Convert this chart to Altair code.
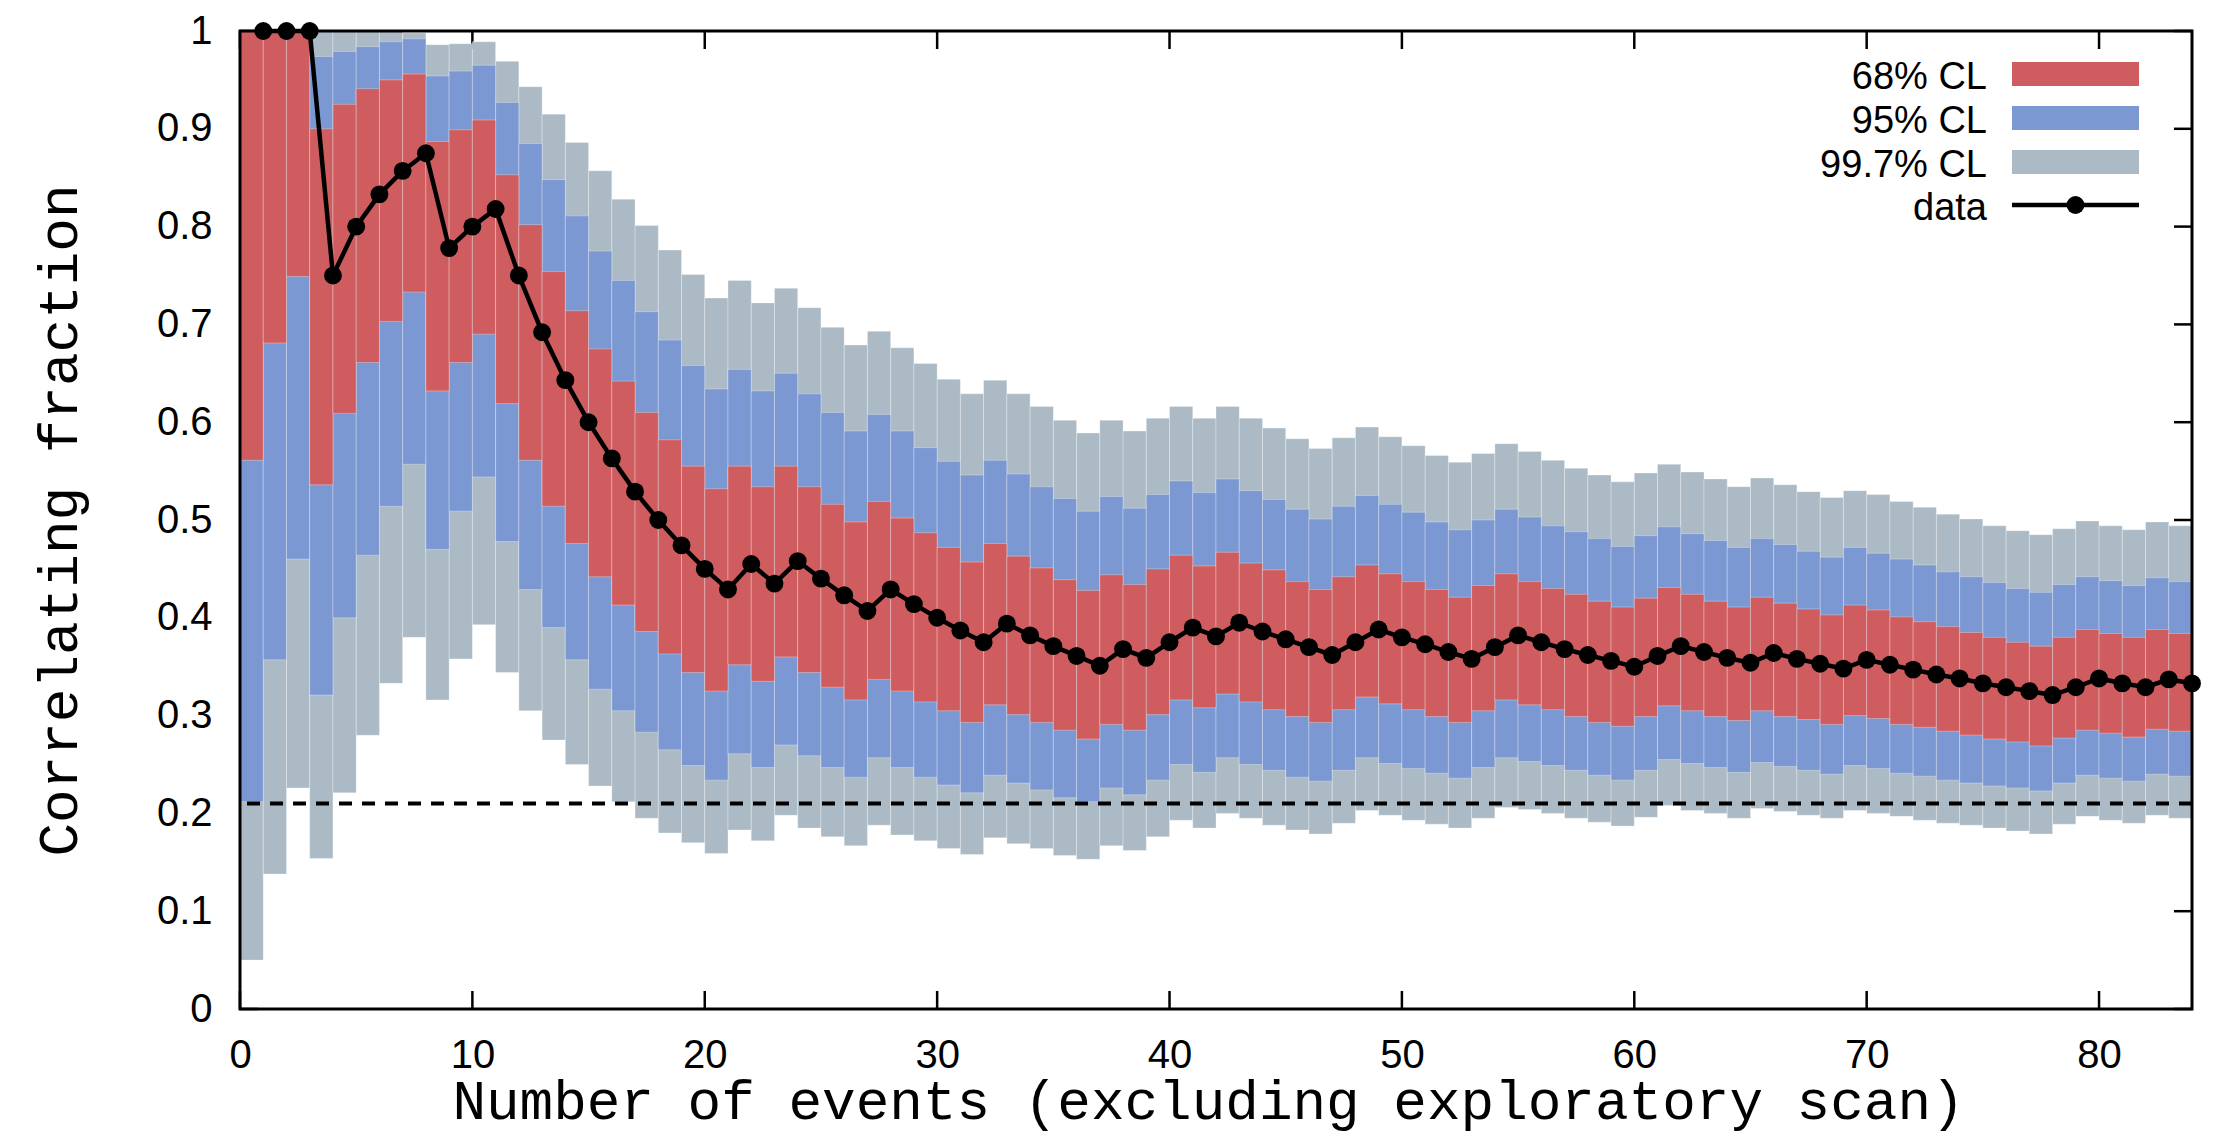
import altair as alt
import pandas as pd

# ---------------- data ----------------
events = list(range(1, 85))

data_frac = [1.0, 1.0, 1.0, 0.75, 0.8, 0.833, 0.857, 0.875, 0.778, 0.8,
             0.818, 0.75, 0.692, 0.643, 0.6, 0.563, 0.529, 0.5, 0.474, 0.45,
             0.429, 0.455, 0.435, 0.458, 0.44, 0.423, 0.407, 0.429, 0.414, 0.4,
             0.387, 0.375, 0.394, 0.382, 0.371, 0.361, 0.351, 0.368, 0.359, 0.375,
             0.39, 0.381, 0.395, 0.386, 0.378, 0.37, 0.362, 0.375, 0.388, 0.38,
             0.373, 0.365, 0.358, 0.37, 0.382, 0.375, 0.368, 0.362, 0.356, 0.35,
             0.361, 0.371, 0.365, 0.359, 0.354, 0.364, 0.358, 0.353, 0.348, 0.357,
             0.352, 0.347, 0.342, 0.338, 0.333, 0.329, 0.325, 0.321, 0.329, 0.338,
             0.333, 0.329, 0.337, 0.333]

cl68_hi = [1.0, 1.0, 1.0, 0.900, 0.925, 0.941, 0.950, 0.956, 0.887, 0.899,
           0.909, 0.853, 0.802, 0.754, 0.714, 0.675, 0.642, 0.610, 0.582, 0.555,
           0.532, 0.555, 0.534, 0.555, 0.534, 0.516, 0.498, 0.519, 0.502, 0.487,
           0.472, 0.457, 0.476, 0.463, 0.451, 0.439, 0.428, 0.444, 0.434, 0.450,
           0.464, 0.453, 0.467, 0.456, 0.449, 0.437, 0.429, 0.442, 0.454, 0.445,
           0.437, 0.429, 0.421, 0.433, 0.445, 0.437, 0.430, 0.424, 0.417, 0.411,
           0.420, 0.431, 0.424, 0.417, 0.411, 0.421, 0.415, 0.409, 0.403, 0.413,
           0.408, 0.401, 0.396, 0.391, 0.385, 0.380, 0.375, 0.371, 0.380, 0.388,
           0.384, 0.380, 0.388, 0.384]

cl68_lo = [0.561, 0.681, 0.749, 0.536, 0.609, 0.661, 0.703, 0.733, 0.632, 0.661,
           0.690, 0.619, 0.561, 0.514, 0.476, 0.442, 0.413, 0.386, 0.363, 0.344,
           0.325, 0.352, 0.335, 0.360, 0.344, 0.329, 0.316, 0.337, 0.325, 0.314,
           0.305, 0.293, 0.311, 0.301, 0.293, 0.285, 0.276, 0.291, 0.285, 0.301,
           0.316, 0.308, 0.322, 0.314, 0.306, 0.299, 0.293, 0.306, 0.319, 0.312,
           0.306, 0.299, 0.293, 0.305, 0.316, 0.311, 0.306, 0.299, 0.293, 0.289,
           0.299, 0.310, 0.305, 0.299, 0.295, 0.305, 0.299, 0.296, 0.291, 0.300,
           0.297, 0.291, 0.288, 0.284, 0.280, 0.276, 0.273, 0.269, 0.277, 0.285,
           0.282, 0.278, 0.286, 0.284]

cl95_hi = [1.0, 1.0, 1.0, 0.974, 0.979, 0.984, 0.989, 0.992, 0.954, 0.959,
           0.965, 0.927, 0.885, 0.848, 0.811, 0.775, 0.745, 0.713, 0.684, 0.658,
           0.634, 0.654, 0.632, 0.650, 0.629, 0.610, 0.591, 0.608, 0.591, 0.574,
           0.560, 0.546, 0.561, 0.547, 0.534, 0.522, 0.509, 0.524, 0.512, 0.526,
           0.540, 0.528, 0.542, 0.530, 0.521, 0.511, 0.501, 0.514, 0.525, 0.516,
           0.508, 0.498, 0.490, 0.500, 0.511, 0.503, 0.494, 0.488, 0.481, 0.473,
           0.484, 0.493, 0.486, 0.479, 0.472, 0.481, 0.475, 0.468, 0.462, 0.472,
           0.466, 0.460, 0.454, 0.447, 0.442, 0.436, 0.430, 0.426, 0.434, 0.442,
           0.438, 0.433, 0.441, 0.437]

cl95_lo = [0.212, 0.357, 0.460, 0.321, 0.400, 0.464, 0.514, 0.557, 0.470, 0.509,
           0.544, 0.478, 0.429, 0.390, 0.357, 0.327, 0.305, 0.283, 0.265, 0.249,
           0.234, 0.261, 0.247, 0.270, 0.259, 0.247, 0.237, 0.257, 0.247, 0.237,
           0.229, 0.221, 0.239, 0.231, 0.224, 0.216, 0.212, 0.226, 0.219, 0.234,
           0.250, 0.242, 0.257, 0.250, 0.244, 0.237, 0.233, 0.244, 0.257, 0.251,
           0.246, 0.241, 0.236, 0.247, 0.257, 0.253, 0.249, 0.244, 0.239, 0.234,
           0.244, 0.255, 0.251, 0.247, 0.242, 0.252, 0.248, 0.244, 0.240, 0.249,
           0.246, 0.241, 0.238, 0.234, 0.231, 0.228, 0.226, 0.223, 0.231, 0.239,
           0.236, 0.233, 0.240, 0.238]

cl997_hi = [1.0, 1.0, 1.0, 1.0, 1.0, 1.0, 1.0, 0.998, 0.986, 0.987,
            0.989, 0.969, 0.943, 0.915, 0.886, 0.857, 0.828, 0.801, 0.776, 0.751,
            0.727, 0.745, 0.722, 0.737, 0.717, 0.697, 0.679, 0.693, 0.676, 0.660,
            0.644, 0.629, 0.643, 0.629, 0.616, 0.602, 0.589, 0.602, 0.591, 0.604,
            0.616, 0.604, 0.616, 0.604, 0.594, 0.583, 0.573, 0.584, 0.595, 0.585,
            0.576, 0.566, 0.559, 0.568, 0.578, 0.570, 0.561, 0.553, 0.546, 0.539,
            0.548, 0.557, 0.549, 0.542, 0.534, 0.543, 0.536, 0.529, 0.523, 0.530,
            0.526, 0.519, 0.513, 0.506, 0.501, 0.494, 0.489, 0.485, 0.491, 0.499,
            0.494, 0.490, 0.498, 0.494]

cl997_lo = [0.050, 0.138, 0.226, 0.154, 0.221, 0.280, 0.333, 0.380, 0.316, 0.358,
            0.393, 0.344, 0.305, 0.275, 0.250, 0.228, 0.212, 0.195, 0.180, 0.170,
            0.159, 0.183, 0.172, 0.198, 0.185, 0.176, 0.167, 0.188, 0.178, 0.172,
            0.164, 0.158, 0.175, 0.169, 0.164, 0.157, 0.153, 0.167, 0.162, 0.176,
            0.193, 0.185, 0.200, 0.195, 0.188, 0.183, 0.179, 0.190, 0.203, 0.198,
            0.193, 0.189, 0.185, 0.195, 0.206, 0.204, 0.200, 0.195, 0.191, 0.187,
            0.196, 0.208, 0.203, 0.200, 0.195, 0.205, 0.202, 0.198, 0.195, 0.203,
            0.200, 0.197, 0.193, 0.190, 0.188, 0.185, 0.182, 0.179, 0.189, 0.197,
            0.193, 0.190, 0.198, 0.195]

x_ticks = [0, 10, 20, 30, 40, 50, 60, 70, 80]
y_ticks = [0, 0.1, 0.2, 0.3, 0.4, 0.5, 0.6, 0.7, 0.8, 0.9, 1.0]
threshold = [0.21]
legend_labels = ["68% CL", "95% CL", "99.7% CL", "data"]

# ---------------- chart ----------------
W, H = 1952, 978
RED, BLUE, GRAY = "#cf5d5f", "#7b98d2", "#abbac4"
SANS, MONO = "Liberation Sans", "Liberation Mono"

bands = pd.DataFrame({
    "start": [n - 1 for n in events], "end": events,
    "r_lo": cl68_lo, "r_hi": cl68_hi,
    "b_lo": cl95_lo, "b_hi": cl95_hi,
    "g_lo": cl997_lo, "g_hi": cl997_hi,
})
line_df = pd.DataFrame({"n": events, "frac": data_frac})

xs = alt.Scale(domain=[0, 84], nice=False, zero=False)
ys = alt.Scale(domain=[0, 1], nice=False, zero=False)

x_axis = alt.Axis(values=x_ticks, ticks=False, domain=False, grid=False,
                  labelFont=SANS, labelFontSize=40, labelColor="black",
                  labelPadding=26, labelFlush=False, labelOverlap=False,
                  title="Number of events (excluding exploratory scan)",
                  titleFont=MONO, titleFontSize=56, titleFontWeight="normal",
                  titleColor="black", titleY=109, titleX=968,
                  titleBaseline="alphabetic")
y_axis = alt.Axis(values=y_ticks, format="~g", ticks=False, domain=False, grid=False,
                  labelFont=SANS, labelFontSize=40, labelColor="black",
                  labelPadding=28, labelOverlap=False,
                  title="Correlating fraction",
                  titleFont=MONO, titleFontSize=56, titleFontWeight="normal",
                  titleColor="black", titleX=-181, titleY=H / 2,
                  titleAngle=270, titleAlign="center", titleBaseline="middle")

xt = pd.DataFrame({"t": x_ticks})
yt = pd.DataFrame({"t": y_ticks})
TL = 18
tick_style = dict(color="black", strokeWidth=2.5)

tick_bottom = alt.Chart(xt).mark_rule(**tick_style).encode(
    x=alt.X("t:Q", scale=xs, axis=x_axis), y=alt.value(H), y2=alt.value(H - TL))
tick_top = alt.Chart(xt).mark_rule(**tick_style).encode(
    x=alt.X("t:Q", scale=xs, axis=x_axis), y=alt.value(0), y2=alt.value(TL))
tick_left = alt.Chart(yt).mark_rule(**tick_style).encode(
    y=alt.Y("t:Q", scale=ys, axis=y_axis), x=alt.value(0), x2=alt.value(TL))
tick_right = alt.Chart(yt).mark_rule(**tick_style).encode(
    y=alt.Y("t:Q", scale=ys, axis=y_axis), x=alt.value(W - TL), x2=alt.value(W))


def band(lo, hi, color):
    return alt.Chart(bands).mark_rect(color=color, stroke="white", strokeOpacity=0.3,
                                      strokeWidth=1).encode(
        x=alt.X("start:Q", scale=xs, axis=x_axis), x2="end:Q",
        y=alt.Y(f"{lo}:Q", scale=ys, axis=y_axis), y2=f"{hi}:Q")


gray = band("g_lo", "g_hi", GRAY)
blue = band("b_lo", "b_hi", BLUE)
red = band("r_lo", "r_hi", RED)

dashed = alt.Chart(pd.DataFrame({"v": threshold})).mark_rule(
    color="black", strokeWidth=4, strokeDash=[13, 10]).encode(
    y=alt.Y("v:Q", scale=ys, axis=y_axis))

data_line = alt.Chart(line_df).mark_line(
    color="black", strokeWidth=4.5,
    point=alt.OverlayMarkDef(filled=True, color="black", size=320, opacity=1)).encode(
    x=alt.X("n:Q", scale=xs, axis=x_axis), y=alt.Y("frac:Q", scale=ys, axis=y_axis))

frame = alt.Chart(pd.DataFrame({"a": [0]})).mark_rect(
    fillOpacity=0, stroke="black", strokeWidth=3).encode(
    x=alt.value(0), x2=alt.value(W), y=alt.value(0), y2=alt.value(H))

# legend (manual, top-right inside the plot)
one = pd.DataFrame({"a": [0]})
LX0, LX1, LTX = 1772, 1899, 1747
rows = [43, 87, 131, 174]
legend_layers = []
for lab, col, yc in zip(legend_labels[:3], [RED, BLUE, GRAY], rows[:3]):
    legend_layers.append(alt.Chart(one).mark_rect(color=col).encode(
        x=alt.value(LX0), x2=alt.value(LX1), y=alt.value(yc - 12), y2=alt.value(yc + 12)))
for lab, yc in zip(legend_labels, rows):
    legend_layers.append(alt.Chart(one).mark_text(
        text=lab, font=SANS, fontSize=38, color="black", align="right",
        baseline="middle").encode(x=alt.value(LTX), y=alt.value(yc + 4)))
legend_layers.append(alt.Chart(one).mark_rule(color="black", strokeWidth=4.5).encode(
    x=alt.value(LX0), x2=alt.value(LX1), y=alt.value(rows[3])))
legend_layers.append(alt.Chart(one).mark_point(
    filled=True, color="black", size=320, opacity=1).encode(
    x=alt.value((LX0 + LX1) / 2), y=alt.value(rows[3])))

chart = alt.layer(
    tick_bottom, tick_top, tick_left, tick_right,
    gray, blue, red, dashed, data_line, frame, *legend_layers
).properties(
    width=W, height=H,
    padding={"left": 232, "top": 23, "right": 12, "bottom": 126},
    autosize=alt.AutoSizeParams(type="none"),
).configure_view(strokeWidth=0).configure(font=SANS, background="white")

chart.save("out.html", embed_options={"renderer": "svg", "actions": False})
